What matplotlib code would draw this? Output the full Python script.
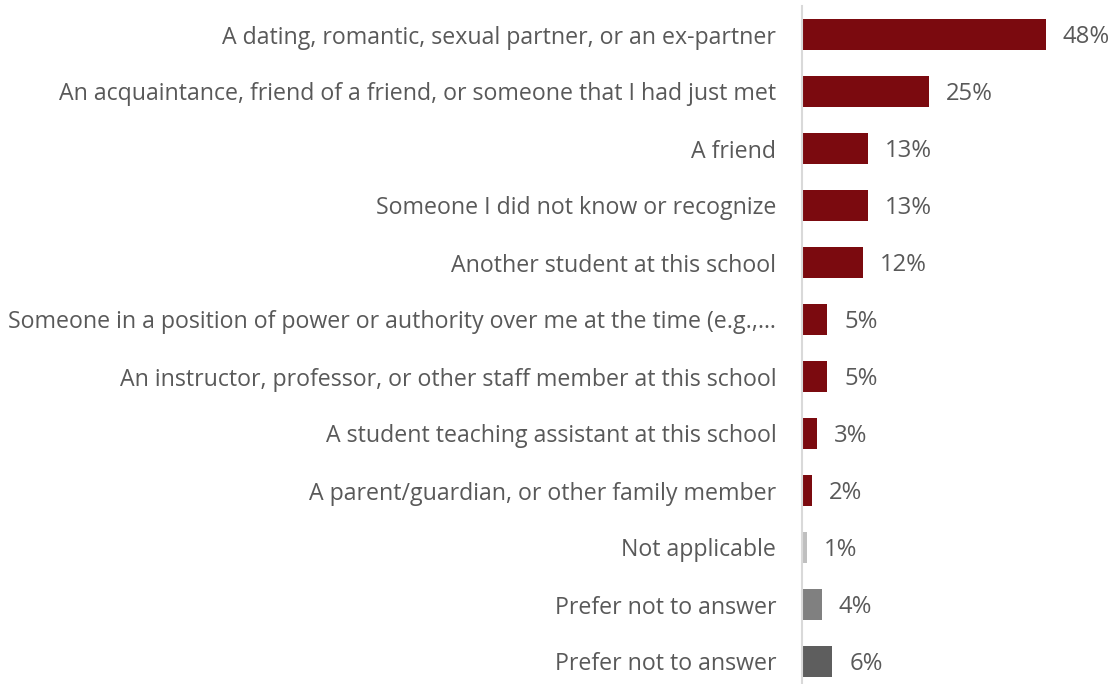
import matplotlib
matplotlib.use('Agg')
import matplotlib.pyplot as plt

categories = [
    'A dating, romantic, sexual partner, or an ex-partner',
    'An acquaintance, friend of a friend, or someone that I had just met',
    'A friend',
    'Someone I did not know or recognize',
    'Another student at this school',
    'Someone in a position of power or authority over me at the time (e.g.,\u2026',
    'An instructor, professor, or other staff member at this school',
    'A student teaching assistant at this school',
    'A parent/guardian, or other family member',
    'Not applicable',
    'Prefer not to answer',
    'Prefer not to answer',
]
values = [48, 25, 13, 13, 12, 5, 5, 3, 2, 1, 4, 6]
colors = ['#7B0A0F'] * 9 + ['#BFBFBF', '#808080', '#5E5E5E']

plt.rcParams['font.family'] = ['Open Sans', 'DejaVu Sans']
text_color = '#595959'
fs = 16.7

fig = plt.figure(figsize=(11.13, 6.84), dpi=100)
ax = fig.add_axes([802 / 1113, -6 / 684, 1 - 802 / 1113, 1.0])

y = list(range(len(categories)))
ax.barh(y, values, height=0.56, color=colors)
ax.set_ylim(len(categories) - 0.5, -0.5)
ax.set_xlim(0, (1113 - 802) / 5.08)

for yi, v in zip(y, values):
    ax.annotate(f'{v}%', (v, yi), xytext=(12, -1.5), textcoords='offset points',
                va='center', ha='left', fontsize=fs + 0.5, color=text_color)

ax.set_yticks(y)
ax.set_yticklabels(categories, fontsize=fs, color=text_color)
ax.tick_params(axis='y', length=0, pad=18.5)
ax.set_xticks([])
for s in ['top', 'right', 'bottom']:
    ax.spines[s].set_visible(False)
ax.spines['left'].set_color('#D9D9D9')
ax.spines['left'].set_linewidth(1.5)

fig.savefig('out.png', dpi=100)
